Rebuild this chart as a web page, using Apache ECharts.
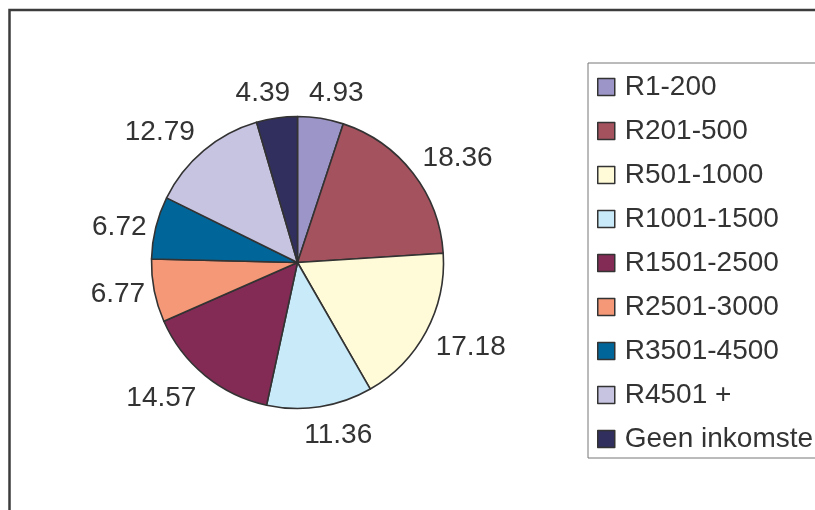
<!DOCTYPE html>
<html>
<head>
<meta charset="utf-8">
<script src="https://cdn.jsdelivr.net/npm/echarts@6/dist/echarts.min.js"></script>
<style>
html,body{margin:0;padding:0;background:#fff;}
#chart{width:815px;height:510px;}
</style>
</head>
<body>
<div id="chart"></div>
<script>
// ---- data ----
var categories = ['R1-200', 'R201-500', 'R501-1000', 'R1001-1500', 'R1501-2500', 'R2501-3000', 'R3501-4500', 'R4501 +', 'Geen inkomste'];
var values = [4.93, 18.36, 17.18, 11.36, 14.57, 6.77, 6.72, 12.79, 4.39];
var colors = ['#9C96C8', '#A5525F', '#FFFAD7', '#C9EAF8', '#832B55', '#F59877', '#006699', '#C7C4E1', '#312F5E'];

// ---- layout constants ----
var CX = 297.5, CY = 262.5, R = 146;
var LABEL_FONT = 28;

var chart = echarts.init(document.getElementById('chart'), null, {renderer: 'canvas'});

var pieData = categories.map(function (c, i) {
  return { name: c, value: values[i], itemStyle: { color: colors[i] } };
});

function clamp(v, a, b) { return Math.max(a, Math.min(b, v)); }

chart.setOption({
  animation: false,
  backgroundColor: '#ffffff',
  graphic: [{
    type: 'rect',
    shape: { x: 9.5, y: 10, width: 900, height: 600 },
    style: { fill: 'none', stroke: '#3c3c3c', lineWidth: 2.5 },
    silent: true
  }],
  legend: {
    orient: 'vertical',
    left: 588,
    top: 63,
    padding: [10, 12, 5, 9],
    borderColor: '#777',
    borderWidth: 1,
    itemGap: 16,
    itemWidth: 17,
    itemHeight: 17,
    icon: 'rect',
    selectedMode: false,
    itemStyle: { borderColor: '#333', borderWidth: 1.5 },
    textStyle: {
      fontFamily: 'Liberation Sans, Arial, sans-serif',
      fontSize: 28,
      lineHeight: 28,
      color: '#333',
      padding: [0, 0, 0, 5]
    },
    data: categories
  },
  series: [{
    type: 'pie',
    center: [CX, CY],
    radius: R,
    startAngle: 90,
    clockwise: true,
    avoidLabelOverlap: false,
    silent: true,
    itemStyle: { borderColor: '#333', borderWidth: 1.6 },
    label: {
      show: true,
      position: 'inside',
      formatter: '{c}',
      fontFamily: 'Liberation Sans, Arial, sans-serif',
      fontSize: LABEL_FONT,
      color: '#333'
    },
    labelLine: { show: false },
    labelLayout: function (p) {
      var r = p.labelRect;
      var lx = r.x + r.width / 2, ly = r.y + r.height / 2;
      var dx = lx - CX, dy = ly - CY;
      var len = Math.sqrt(dx * dx + dy * dy) || 1;
      dx /= len; dy /= len;
      var hh = LABEL_FONT * 0.36;
      var ox = clamp(dx * 3, -1, 1) * r.width / 2;
      var oy = (dy < 0 ? -1 : 1) * hh * clamp((Math.abs(dy) - 0.25) * 4, 0, 1);
      var D = R + 9 + 8 * dy * dy;
      return { x: CX + dx * D + ox, y: CY + dy * D + oy + 2, align: 'center', verticalAlign: 'middle' };
    },
    data: pieData
  }]
});
</script>
</body>
</html>
